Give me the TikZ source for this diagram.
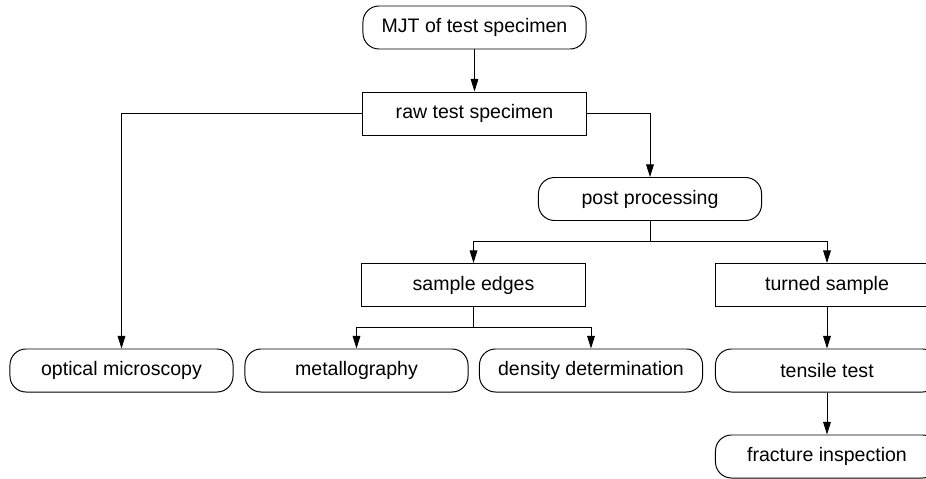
\documentclass[tikz,border=0pt]{standalone}
\usepackage{fontspec}
\setmainfont{Liberation Sans}
\usetikzlibrary{arrows.meta}

\tikzset{
  procbox/.style={draw, rounded corners=0.4cm, minimum width=5.575cm, minimum height=1.075cm, inner sep=0pt},
  partbox/.style={draw, rectangle, minimum width=5.575cm, minimum height=1.075cm, inner sep=0pt},
  flow/.style={-{Triangle[length=9pt,width=5.5pt]}}
}

\begin{document}
\begin{tikzpicture}[x=0.025cm, y=-0.025cm, line width=0.7pt,
    font=\fontsize{13.9pt}{16pt}\selectfont]
  \useasboundingbox (0,0) rectangle (926,479);
  \clip (0,0) rectangle (926,479);

  % process chain
  \node[procbox] (mjt) at (474.5,27.5) {MJT of test specimen};
  \node[partbox] (raw) at (474.5,113.5) {raw test specimen};
  \node[procbox] (post) at (650,199) {post processing};
  \node[partbox] (edges) at (473.5,285) {sample edges};
  \node[partbox] (turned) at (827,285) {turned sample};

  % examinations
  \node[procbox] (optical) at (121.5,370.5) {optical microscopy};
  \node[procbox] (metal) at (356.5,370.5) {metallography};
  \node[procbox] (density) at (591,370.5) {density determination};
  \node[procbox] (tensile) at (827,370.5) {tensile test};
  \node[procbox] (fracture) at (827,456.5) {fracture inspection};

  \coordinate (splitpost) at (650,241);
  \coordinate (splitedges) at (473.5,327);

  \draw[flow] (mjt) -- (raw);
  \draw[flow] (raw.west) -| (optical.north);
  \draw[flow] (raw.east) -| (post.north);
  \draw (post.south) -- (splitpost);
  \draw[flow] (splitpost) -| (edges.north);
  \draw[flow] (splitpost) -| (turned.north);
  \draw (edges.south) -- (splitedges);
  \draw[flow] (splitedges) -| (metal.north);
  \draw[flow] (splitedges) -| (density.north);
  \draw[flow] (turned) -- (tensile);
  \draw[flow] (tensile) -- (fracture);
\end{tikzpicture}
\end{document}
